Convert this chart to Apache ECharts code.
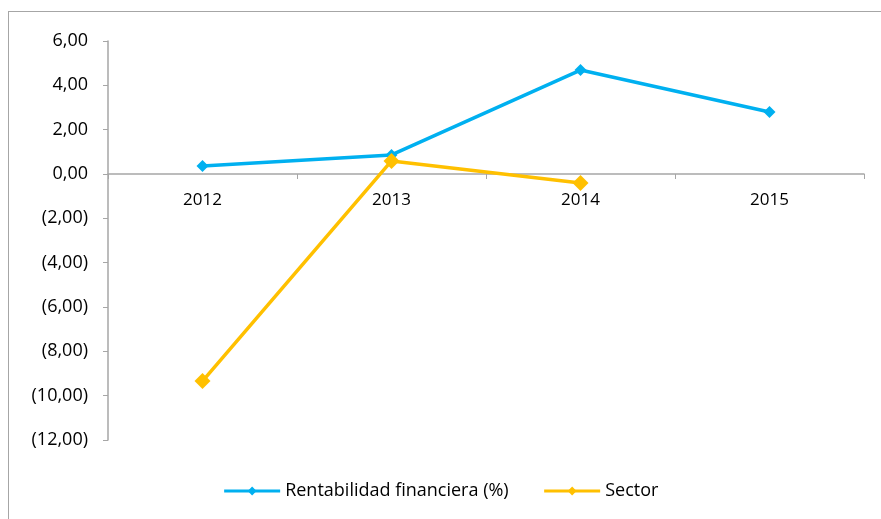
<!DOCTYPE html>
<html>
<head>
<meta charset="utf-8">
<script src="https://cdn.jsdelivr.net/npm/echarts@6/dist/echarts.min.js"></script>
<style>
  html, body { margin: 0; padding: 0; background: #fff; }
  #frame { position: absolute; left: 8px; top: 11px; width: 873px; height: 508px;
           border-top: 1px solid #a6a6a6; border-left: 1px solid #a6a6a6; }
  #myChart { position: absolute; left: 0; top: 0; width: 881px; height: 519px; }
</style>
</head>
<body>
<div id="frame"></div>
<div id="myChart"></div>
<script>
const years = ['2012', '2013', '2014', '2015']
const rentabilidad = [0.36, 0.86, 4.69, 2.80]
const sector = [-9.34, 0.59, -0.41, null]
const seriesNames = ['Rentabilidad financiera (%)', 'Sector']

// formato contable: negativos entre paréntesis, coma decimal
function fmt (v) {
  const s = Math.abs(v).toFixed(2).replace('.', ',')
  return v < 0 ? '(' + s + ')' : s
}

const myChart = echarts.init(document.getElementById('myChart'))
myChart.setOption({
  animation: false,
  textStyle: { fontFamily: 'Open Sans' },
  grid: { left: 108, right: 17, top: 41, bottom: 79, containLabel: false },
  legend: {
    bottom: 14,
    left: 'center',
    itemWidth: 56,
    itemHeight: 11,
    itemGap: 34,
    lineStyle: { width: 3 },
    textStyle: { fontSize: 18, color: '#000', fontFamily: 'Open Sans' },
    data: seriesNames
  },
  xAxis: [
    {
      type: 'category',
      data: years,
      boundaryGap: true,
      axisLine: { onZero: true, lineStyle: { color: '#a6a6a6', width: 1.5 } },
      axisTick: { show: true, length: 5, lineStyle: { color: '#a6a6a6' } },
      axisLabel: { show: false },
      splitLine: { show: false }
    },
    {
      // etiquetas de años justo debajo de la línea del cero
      type: 'category',
      data: years,
      position: 'bottom',
      offset: -266,
      boundaryGap: true,
      axisLine: { show: false, onZero: false },
      axisTick: { show: false },
      axisLabel: { color: '#000', fontSize: 17, margin: 18 },
      splitLine: { show: false }
    }
  ],
  yAxis: {
    type: 'value',
    min: -12,
    max: 6,
    interval: 2,
    axisLine: { show: true, lineStyle: { color: '#a6a6a6', width: 1.5 } },
    axisTick: { show: true, length: 5, lineStyle: { color: '#a6a6a6' } },
    axisLabel: { color: '#000', fontSize: 18, margin: 20, formatter: fmt },
    splitLine: { show: false }
  },
  series: [
    {
      name: seriesNames[0],
      type: 'line',
      data: rentabilidad,
      symbol: 'diamond',
      symbolSize: 12,
      lineStyle: { color: '#00B0F0', width: 3.5 },
      itemStyle: { color: '#00B0F0' }
    },
    {
      name: seriesNames[1],
      type: 'line',
      data: sector,
      symbol: 'diamond',
      symbolSize: 16,
      lineStyle: { color: '#FFC000', width: 3.5 },
      itemStyle: { color: '#FFC000' }
    }
  ]
})
</script>
</body>
</html>
